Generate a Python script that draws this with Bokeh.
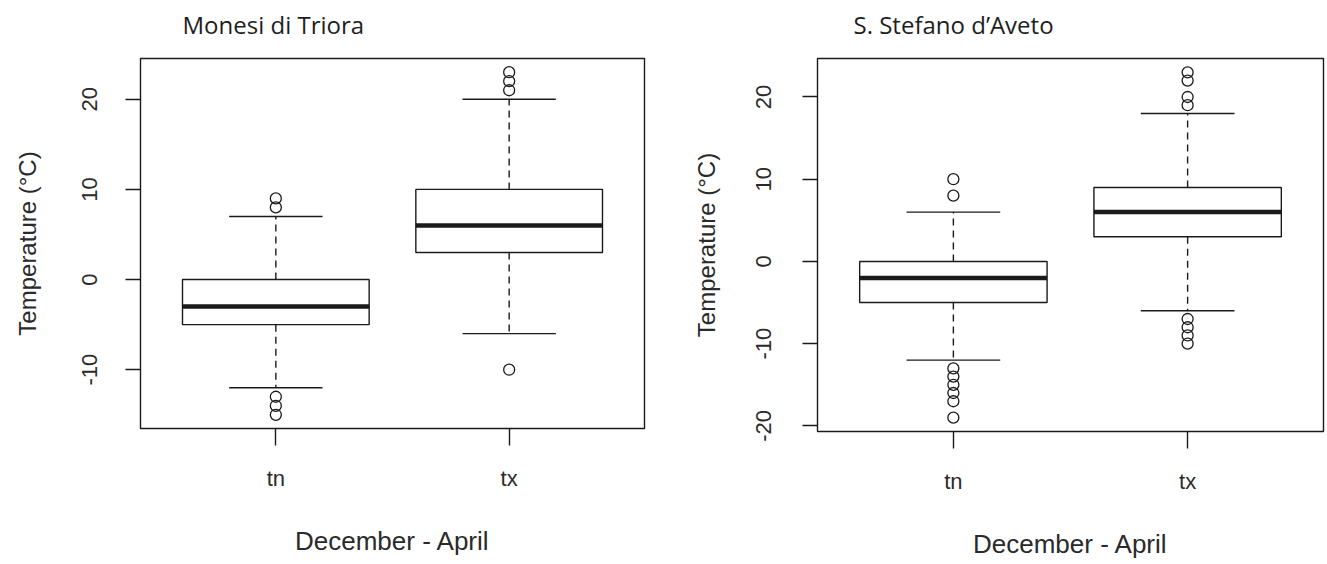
from bokeh.plotting import figure
from bokeh.layouts import row
from bokeh.models import FixedTicker, Range1d, Title
from bokeh.embed import file_html
from bokeh.resources import INLINE

categories = ["tn", "tx"]
stations = ["Monesi di Triora", "S. Stefano d\u2019Aveto"]
x_title = "December - April"
y_title = "Temperature (°C)"

# Monesi di Triora
m_lower_whisker = [-12, -6]
m_q1 = [-5, 3]
m_median = [-3, 6]
m_q3 = [0, 10]
m_upper_whisker = [7, 20]
m_outliers = [[9, 8, -13, -14, -15], [21, 22, 23, -10]]
m_yticks = [-10, 0, 10, 20]

# S. Stefano d'Aveto
s_lower_whisker = [-12, -6]
s_q1 = [-5, 3]
s_median = [-2, 6]
s_q3 = [0, 9]
s_upper_whisker = [6, 18]
s_outliers = [[10, 8, -13, -14, -15, -16, -17, -19], [19, 20, 22, 23, -7, -8, -9, -10]]
s_yticks = [-20, -10, 0, 10, 20]

INK = "#1a1a1a"
TXT = "#2a2a2a"


def panel(title, lw, q1, med, q3, uw, outl, yticks, border_left, frame_w, border_right,
          border_top, frame_h, title_offset, tick_standoff, label_standoff):
    xs = [i + 1 for i in range(len(categories))]
    allv = lw + uw + [v for o in outl for v in o]
    lo, hi = min(allv), max(allv)
    pad = (hi - lo) * 0.04
    p = figure(frame_width=frame_w, frame_height=frame_h,
               x_range=Range1d(0.5 - 0.08, len(categories) + 0.5 + 0.08),
               y_range=Range1d(lo - pad, hi + pad),
               output_backend="svg", toolbar_location=None,
               min_border_left=border_left, min_border_right=border_right,
               min_border_top=border_top, min_border_bottom=564 - border_top - frame_h,
               background_fill_color="white", border_fill_color="white")
    p.grid.visible = False
    p.outline_line_color = INK
    p.outline_line_width = 1.4

    # spacer between the frame and the title (keeps the title high)
    p.add_layout(Title(text=" ", text_font_size="2px", standoff=14), "above")

    p.title.text = title
    p.title.align = "left"
    p.title.offset = title_offset
    p.title.text_font = "Open Sans"
    p.title.text_font_size = "24px"
    p.title.text_font_style = "normal"
    p.title.text_color = "#1e1e1e"
    p.title.standoff = 0

    bw = 0.4
    cw = 0.2
    # whiskers
    p.segment(x0=xs, y0=q3, x1=xs, y1=uw, line_color=INK, line_width=1.4, line_dash="7 5")
    p.segment(x0=xs, y0=q1, x1=xs, y1=lw, line_color=INK, line_width=1.4, line_dash="7 5")
    # caps
    p.segment(x0=[x - cw for x in xs], y0=uw, x1=[x + cw for x in xs], y1=uw, line_color=INK, line_width=1.4)
    p.segment(x0=[x - cw for x in xs], y0=lw, x1=[x + cw for x in xs], y1=lw, line_color=INK, line_width=1.4)
    # boxes
    p.quad(left=[x - bw for x in xs], right=[x + bw for x in xs], bottom=q1, top=q3,
           fill_color="white", line_color=INK, line_width=1.4)
    # medians
    p.segment(x0=[x - bw for x in xs], y0=med, x1=[x + bw for x in xs], y1=med, line_color=INK, line_width=4.5)
    # outliers
    ox, oy = [], []
    for x, o in zip(xs, outl):
        ox += [x] * len(o)
        oy += o
    p.scatter(ox, oy, marker="circle", size=11, fill_color=None, line_color=INK, line_width=1.3)

    # axes
    p.xaxis.ticker = FixedTicker(ticks=xs)
    p.xaxis.major_label_overrides = {x: c for x, c in zip(xs, categories)}
    p.yaxis.ticker = FixedTicker(ticks=yticks)
    p.yaxis.major_label_overrides = {t: str(t) for t in yticks}
    for ax in (p.xaxis, p.yaxis):
        ax.axis_line_color = None
        ax.major_tick_line_color = INK
        ax.major_tick_line_width = 1.4
        ax.major_tick_in = 0
        ax.minor_tick_line_color = None
        ax.major_label_text_font = "Liberation Sans"
        ax.major_label_text_font_size = "22px"
        ax.major_label_text_color = TXT
        ax.axis_label_text_font = "Liberation Sans"
        ax.axis_label_text_font_style = "normal"
        ax.axis_label_text_color = TXT
    p.yaxis.major_tick_out = 15
    p.xaxis.major_tick_out = 17
    p.yaxis.axis_label_text_font_size = "24px"
    p.xaxis.axis_label_text_font_size = "26px"
    p.yaxis.major_label_orientation = "vertical"
    p.yaxis.major_label_standoff = tick_standoff
    p.yaxis.axis_label = y_title
    p.yaxis.axis_label_standoff = label_standoff
    p.xaxis.axis_label = x_title
    p.xaxis.major_label_standoff = 20
    p.xaxis.axis_label_standoff = 32
    return p


p1 = panel(stations[0], m_lower_whisker, m_q1, m_median, m_q3, m_upper_whisker, m_outliers, m_yticks,
           140, 504, 19, 58, 370, 42, 28, 39)
p2 = panel(stations[1], s_lower_whisker, s_q1, s_median, s_q3, s_upper_whisker, s_outliers, s_yticks,
           154, 506, 4, 57, 373, 36, 31, 34)

layout = row(p1, p2)
open("out.html", "w").write(file_html(layout, INLINE))
